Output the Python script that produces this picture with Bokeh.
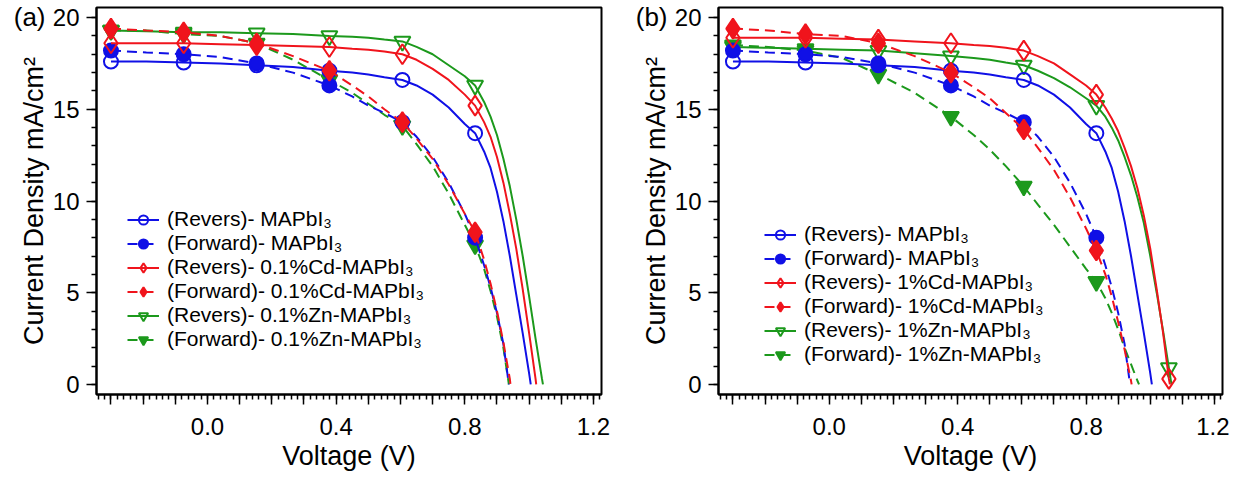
import numpy as np
from bokeh.plotting import figure
from bokeh.layouts import row
from bokeh.models import (Range1d, FixedTicker, SingleIntervalTicker, CustomJSTickFormatter,
                          Legend, LegendItem, LinearAxis)
from bokeh.embed import file_html
from bokeh.resources import INLINE

# ---------------- data ----------------
# common voltage grid (V); each curve uses the first len(J) points, then ends at its Voc (J = 0)
V_GRID = [-0.3, -0.19, -0.074, 0.04, 0.153, 0.266, 0.379, 0.45, 0.5, 0.55, 0.606, 0.65, 0.7,
          0.75, 0.8, 0.832, 0.86, 0.88, 0.9, 0.92, 0.94, 0.96, 0.98, 1.0, 1.02, 1.04, 1.058]
MARKER_V = [-0.3, -0.074, 0.153, 0.379, 0.606, 0.832, 1.058]

# MAPbI3 (same in both panels)
J_MAP_REV = [17.6, 17.6, 17.55, 17.5, 17.4, 17.3, 17.1, 17.0, 16.9, 16.75, 16.6, 16.3, 15.8, 15.1,
             14.2, 13.7, 12.7, 11.8, 10.5, 8.9, 7.0, 4.9, 2.8, 0.6]
VOC_MAP_REV = 1.005
J_MAP_FWD = [18.2, 18.1, 18.0, 17.85, 17.5, 17.0, 16.3, 15.7, 15.2, 14.8, 14.3, 13.5, 12.4, 11.0,
             9.3, 8.0, 6.5, 5.3, 3.9, 2.2]
VOC_MAP_FWD = 0.937

# panel (a): 0.1 % doping
J_CD01_REV = [18.6, 18.6, 18.6, 18.55, 18.5, 18.45, 18.4, 18.3, 18.25, 18.15, 18.0, 17.7, 17.2, 16.6,
              15.8, 15.2, 14.3, 13.5, 12.4, 11.0, 9.3, 7.4, 5.2, 2.8, 0.3]
VOC_CD01_REV = 1.022
J_CD01_FWD = [19.4, 19.3, 19.2, 19.0, 18.6, 17.9, 17.1, 16.3, 15.7, 15.0, 14.3, 13.4, 12.3, 10.9,
              9.3, 8.3, 6.8, 5.5, 4.0, 2.3, 0.3]
VOC_CD01_FWD = 0.942
J_ZN01_REV = [19.3, 19.25, 19.2, 19.2, 19.15, 19.1, 19.0, 18.95, 18.9, 18.8, 18.7, 18.4, 18.0, 17.4,
              16.8, 16.3, 15.4, 14.6, 13.6, 12.3, 10.8, 9.0, 7.0, 4.8, 2.5, 0.3]
VOC_ZN01_REV = 1.043
J_ZN01_FWD = [19.3, 19.3, 19.1, 19.0, 18.6, 17.7, 16.6, 15.9, 15.3, 14.7, 14.1, 13.1, 11.9, 10.4,
              8.7, 7.6, 6.3, 5.1, 3.7, 2.0]
VOC_ZN01_FWD = 0.937

# panel (b): 1 % doping
J_CD1_REV = [18.9, 18.9, 18.9, 18.85, 18.8, 18.7, 18.6, 18.5, 18.45, 18.35, 18.2, 17.9, 17.5, 16.9,
             16.3, 15.8, 15.1, 14.5, 13.8, 12.9, 11.9, 10.7, 9.2, 7.4, 5.2, 2.8, 0.3]
VOC_CD1_REV = 1.061
J_CD1_FWD = [19.4, 19.3, 19.1, 19.0, 18.6, 17.9, 17.0, 16.2, 15.6, 14.8, 13.9, 12.9, 11.7, 10.2,
             8.5, 7.3, 6.0, 4.8, 3.4, 1.9, 0.2]
VOC_CD1_FWD = 0.942
J_ZN1_REV = [18.4, 18.35, 18.3, 18.25, 18.2, 18.05, 17.9, 17.8, 17.7, 17.55, 17.4, 17.1, 16.7, 16.2,
             15.6, 15.2, 14.6, 14.0, 13.3, 12.4, 11.4, 10.2, 8.8, 7.0, 5.0, 2.9, 0.9]
VOC_ZN1_REV = 1.066
J_ZN1_FWD = [18.5, 18.4, 18.2, 17.8, 16.9, 15.9, 14.6, 13.6, 12.8, 11.9, 10.8, 9.8, 8.7, 7.5,
             6.3, 5.6, 4.7, 3.9, 3.0, 2.0, 1.1, 0.2]
VOC_ZN1_FWD = 0.965

LABELS_A = ["(Revers)- MAPbI₃", "(Forward)- MAPbI₃",
            "(Revers)- 0.1%Cd-MAPbI₃", "(Forward)- 0.1%Cd-MAPbI₃",
            "(Revers)- 0.1%Zn-MAPbI₃", "(Forward)- 0.1%Zn-MAPbI₃"]
LABELS_B = ["(Revers)- MAPbI₃", "(Forward)- MAPbI₃",
            "(Revers)- 1%Cd-MAPbI₃", "(Forward)- 1%Cd-MAPbI₃",
            "(Revers)- 1%Zn-MAPbI₃", "(Forward)- 1%Zn-MAPbI₃"]
PANEL_TAGS = ["(a)", "(b)"]

# ---------------- styling ----------------
FONT = "Liberation Sans"
BLUE, RED, GREEN = "#1010e6", "#f0141c", "#1c991c"
DASH = "10 6"
STYLES = [  # colour, dash, marker, size, filled
    (BLUE, "solid", "circle", 14, False),
    (BLUE, DASH, "circle", 14, True),
    (RED, "solid", "diamond", 20, False),
    (RED, DASH, "diamond", 20, True),
    (GREEN, "solid", "inverted_triangle", 16, False),
    (GREEN, DASH, "inverted_triangle", 16, True),
]
DRAW_ORDER = [4, 5, 0, 1, 2, 3]


def curve(J, voc):
    v = list(V_GRID[:len(J)]) + [voc]
    j = list(J) + [0.0]
    return np.array(v), np.array(j)


def make_panel(tag, curves, labels, width, bl, br, legend_xy):
    p = figure(width=width, height=479, output_backend="svg", toolbar_location=None,
               x_range=Range1d(-0.345, 1.225), y_range=Range1d(-0.55, 20.55),
               min_border_left=bl, min_border_right=br, min_border_top=7, min_border_bottom=85)
    p.grid.visible = False
    p.outline_line_color = "black"
    p.outline_line_width = 2
    p.outline_line_alpha = 1.0

    xt = [round(-0.3 + 0.1 * i, 1) for i in range(16)]
    xm = [round(-0.34 + 0.02 * i, 2) for i in range(79)]
    p.xaxis.ticker = FixedTicker(ticks=xt, minor_ticks=xm)
    p.xaxis.formatter = CustomJSTickFormatter(
        code="const k = Math.round(tick*10); return (k % 4 === 0) ? tick.toFixed(1) : '';")
    p.yaxis.ticker = SingleIntervalTicker(interval=5, num_minor_ticks=5)

    for ax in (p.xaxis[0], p.yaxis[0]):
        ax.axis_line_width = 2
        ax.axis_line_color = "black"
        ax.major_tick_line_width = 1.5
        ax.minor_tick_line_width = 1.5
        ax.major_tick_line_color = "black"
        ax.minor_tick_line_color = "black"
        ax.major_tick_in = 0
        ax.major_tick_out = 10
        ax.minor_tick_in = 0
        ax.minor_tick_out = 5
        ax.major_label_text_font = FONT
        ax.major_label_text_font_size = "24px"
        ax.major_label_text_color = "black"
        ax.axis_label_text_font = FONT
        ax.axis_label_text_font_style = "normal"
        ax.axis_label_text_color = "black"
    p.xaxis.axis_label = "Voltage (V)"
    p.xaxis.axis_label_text_font_size = "27px"
    p.xaxis.major_label_standoff = 13
    p.xaxis.axis_label_standoff = 3
    p.yaxis.axis_label = "Current Density mA/cm²"
    p.yaxis.axis_label_text_font_size = "27px"
    p.yaxis.major_label_standoff = 7
    p.yaxis.axis_label_standoff = 1

    # panel tag "(a)"/"(b)" drawn as the only tick label of an invisible outer axis
    tag_axis = LinearAxis(ticker=FixedTicker(ticks=[20.2], minor_ticks=[]),
                          formatter=CustomJSTickFormatter(code="return '%s';" % tag),
                          axis_line_alpha=0, major_tick_line_alpha=0, minor_tick_line_alpha=0,
                          major_tick_in=0, major_tick_out=0, minor_tick_in=0, minor_tick_out=0,
                          major_label_standoff=-30, major_label_text_font=FONT,
                          major_label_text_font_size="26px", major_label_text_color="black")
    p.add_layout(tag_axis, "left")

    rends = {}
    for idx in DRAW_ORDER:
        v, j = curves[idx]
        col, dash, mk, size, filled = STYLES[idx]
        lr = p.line(v, j, line_color=col, line_width=2, line_dash=dash)
        m = np.isin(np.round(v, 3), np.round(MARKER_V, 3))
        sr = p.scatter(v[m], j[m], marker=mk, size=size, line_color=col, line_width=2,
                       fill_color=col if filled else None)
        rends[idx] = [lr, sr]

    items = [LegendItem(label=labels[i], renderers=rends[i]) for i in range(6)]
    leg = Legend(items=items, location=legend_xy, padding=0, margin=0,
                 border_line_alpha=0, background_fill_alpha=0,
                 label_text_font=FONT, label_text_font_size="21px", label_text_color="black",
                 glyph_width=32, glyph_height=23, label_height=23, spacing=-1, label_standoff=8)
    p.add_layout(leg)
    return p


curves_a = [curve(J_MAP_REV, VOC_MAP_REV), curve(J_MAP_FWD, VOC_MAP_FWD),
            curve(J_CD01_REV, VOC_CD01_REV), curve(J_CD01_FWD, VOC_CD01_FWD),
            curve(J_ZN01_REV, VOC_ZN01_REV), curve(J_ZN01_FWD, VOC_ZN01_FWD)]
curves_b = [curve(J_MAP_REV, VOC_MAP_REV), curve(J_MAP_FWD, VOC_MAP_FWD),
            curve(J_CD1_REV, VOC_CD1_REV), curve(J_CD1_FWD, VOC_CD1_FWD),
            curve(J_ZN1_REV, VOC_ZN1_REV), curve(J_ZN1_FWD, VOC_ZN1_FWD)]

pa = make_panel(PANEL_TAGS[0], curves_a, LABELS_A, 617, 96, 16, (31, 43))
pb = make_panel(PANEL_TAGS[1], curves_b, LABELS_B, 612, 101, 7, (46, 28))

layout = row(pa, pb)
open("out.html", "w").write(file_html(layout, INLINE))
